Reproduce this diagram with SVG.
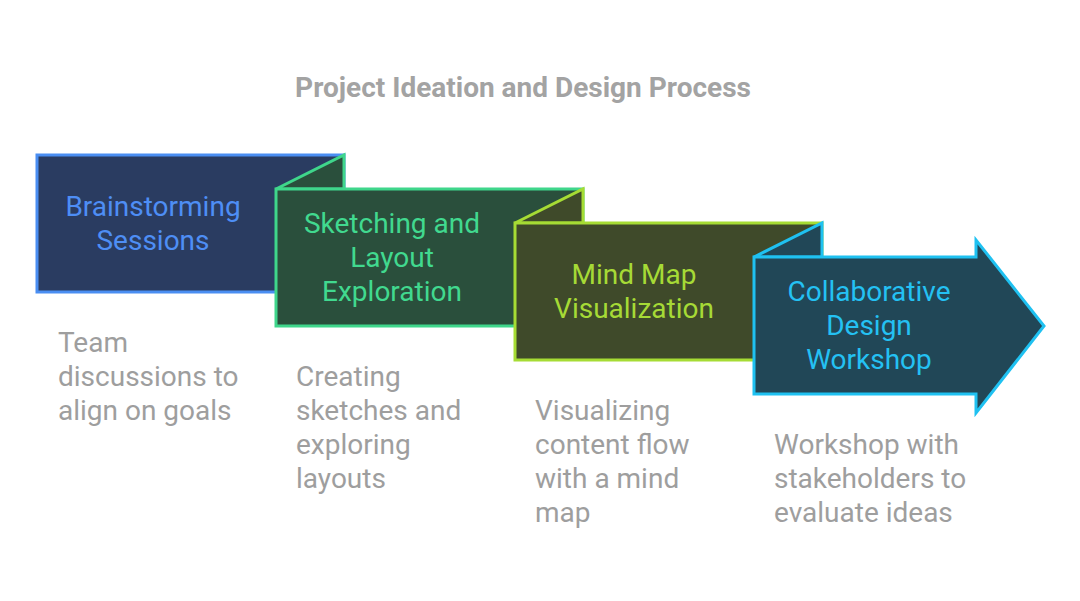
<svg xmlns="http://www.w3.org/2000/svg" width="1080" height="601" viewBox="0 0 1080 601">
<style>
.t{font-family:Roboto,"Liberation Sans",sans-serif;font-size:28px;text-anchor:middle}
.d{font-family:Roboto,"Liberation Sans",sans-serif;font-size:28px;fill:#9e9e9e}
.title{font-family:Roboto,"Liberation Sans",sans-serif;font-size:28px;font-weight:bold;fill:#a3a3a3;text-anchor:middle}
.s{stroke-width:3;stroke-linejoin:miter}
</style>
<rect width="1080" height="601" fill="#ffffff"/>
<text class="title" x="523" y="97">Project Ideation and Design Process</text>
<g id="connectors"></g>
<g id="node1">
<rect class="s" x="37" y="155" width="307" height="137" fill="#2a3c61" stroke="#4a8ef2"/>
<text class="t" fill="#4e8ef5" x="153" y="216">Brainstorming</text>
<text class="t" fill="#4e8ef5" x="153" y="250">Sessions</text>
</g>
<g id="node2">
<path class="s" d="M276,189 L344,155 L344,189 Z" fill="#2a4f3c" stroke="#3fd68b"/>
<rect class="s" x="276" y="189" width="307" height="137" fill="#2a4f3c" stroke="#3fd68b"/>
<text class="t" fill="#41d98f" x="392" y="233">Sketching and</text>
<text class="t" fill="#41d98f" x="392" y="267">Layout</text>
<text class="t" fill="#41d98f" x="392" y="301">Exploration</text>
</g>
<g id="node3">
<path class="s" d="M515,223 L583,189 L583,223 Z" fill="#3f4a2a" stroke="#a6dc34"/>
<rect class="s" x="515" y="223" width="307" height="137" fill="#3f4a2a" stroke="#a6dc34"/>
<text class="t" fill="#a6da36" x="634" y="284">Mind Map</text>
<text class="t" fill="#a6da36" x="634" y="318">Visualization</text>
</g>
<g id="node4">
<path class="s" d="M754,257 L822,223 L822,257 Z" fill="#214757" stroke="#1fc1f1"/>
<path class="s" d="M754,257 L976,257 L976,240 L1044,326 L976,413 L976,394 L754,394 Z" fill="#214757" stroke="#1fc1f1"/>
<text class="t" fill="#24c1f3" x="869" y="301">Collaborative</text>
<text class="t" fill="#24c1f3" x="869" y="335">Design</text>
<text class="t" fill="#24c1f3" x="869" y="369">Workshop</text>
</g>
<g id="desc1">
<text class="d" x="58" y="352">Team</text>
<text class="d" x="58" y="386">discussions to</text>
<text class="d" x="58" y="420">align on goals</text>
</g>
<g id="desc2">
<text class="d" x="296" y="386">Creating</text>
<text class="d" x="296" y="420">sketches and</text>
<text class="d" x="296" y="454">exploring</text>
<text class="d" x="296" y="488">layouts</text>
</g>
<g id="desc3">
<text class="d" x="535" y="420">Visualizing</text>
<text class="d" x="535" y="454">content flow</text>
<text class="d" x="535" y="488">with a mind</text>
<text class="d" x="535" y="522">map</text>
</g>
<g id="desc4">
<text class="d" x="774" y="454">Workshop with</text>
<text class="d" x="774" y="488">stakeholders to</text>
<text class="d" x="774" y="522">evaluate ideas</text>
</g>
</svg>
